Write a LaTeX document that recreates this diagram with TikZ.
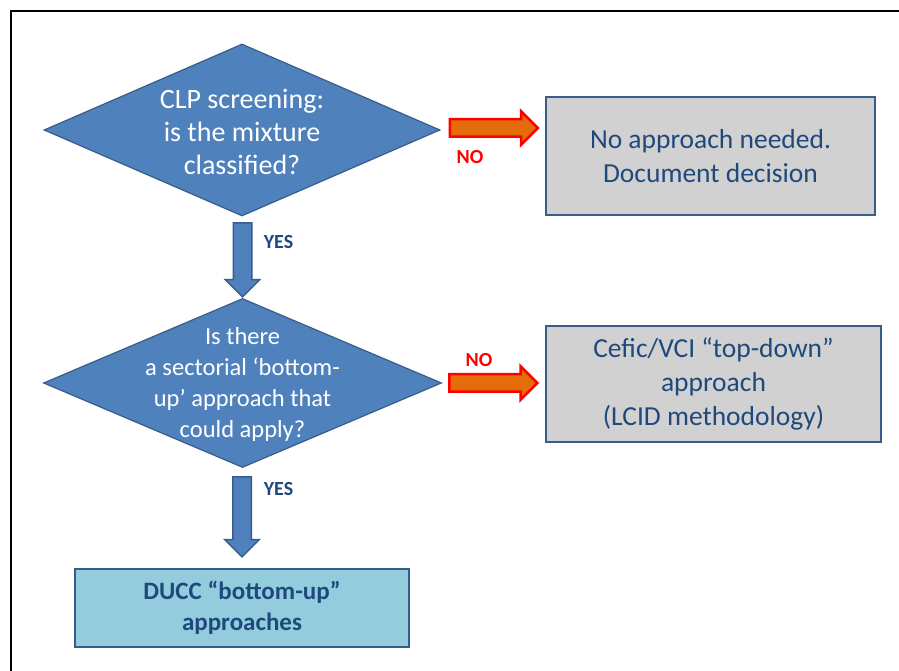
\documentclass[tikz,border=0pt]{standalone}
\usepackage{fontspec}
\setmainfont{Carlito}
\usetikzlibrary{shapes.geometric,shapes.arrows,calc}

\definecolor{qblue}{HTML}{4F81BD}
\definecolor{edgeblue}{HTML}{385D8A}
\definecolor{textblue}{HTML}{1F497D}
\definecolor{duccblue}{HTML}{93CDDD}
\definecolor{noorange}{HTML}{E46C0A}

\tikzset{
    question/.style={diamond, draw=edgeblue, fill=qblue, line width=1.2pt, inner sep=0pt, aspect=2.3},
    qtext/.style={text=white, align=center},
    result/.style={rectangle, draw=edgeblue, fill=black!18, line width=2pt, inner sep=0pt,
        text=textblue, align=center, font=\fontsize{27.5}{34}\selectfont},
    duccbox/.style={rectangle, draw=edgeblue, fill=duccblue, line width=2.2pt, inner sep=0pt,
        text=textblue, align=center, font=\bfseries\fontsize{25}{31}\selectfont},
    yesarrow/.style={single arrow, draw=edgeblue, fill=qblue, line width=1.5pt, inner sep=0pt,
        inner ysep=8.5pt, minimum width=34pt, single arrow head extend=8pt, rotate=-90, anchor=tip},
    noarrow/.style={single arrow, draw=red, fill=noorange, line width=2.5pt, inner sep=0pt,
        inner ysep=7.5pt, minimum width=32pt, single arrow head extend=8pt, anchor=tail},
    yeslabel/.style={text=textblue, font=\bfseries\fontsize{20}{22}\selectfont},
    nolabel/.style={text=red, font=\bfseries\fontsize{20}{22}\selectfont}
}

\begin{document}
\begin{tikzpicture}[x=1pt,y=1pt]
    \useasboundingbox (0,0) rectangle (899,671);
    \clip (0,0) rectangle (899,671);
    \fill[white] (0,0) rectangle (899,671);
    \draw[line width=2.5pt] (11,-10) -- (11,660.5);
    \draw[line width=1.5pt] (10,660) -- (910,660);

    \node[question, minimum width=396pt, minimum height=172pt] (q1) at (242,541) {};
    \node[qtext, font=\fontsize{28}{33}\selectfont] (q1text) at (242,539) {CLP screening:\\is the mixture\\classified?};
    \node[question, minimum width=398pt, minimum height=169pt] (q2) at (242.5,288) {};
    \node[qtext, font=\fontsize{24.5}{31}\selectfont] (q2text) at (242.5,287) {Is there\\a sectorial ‘bottom-\\up’ approach that\\could apply?};

    \node[result, minimum width=329pt, minimum height=118pt] (noneed) at (710.5,515) {No approach needed.\\Document decision};
    \node[result, minimum width=335pt, minimum height=116pt] (topdown) at (713.5,287) {Cefic/VCI “top-down”\\approach\\(LCID methodology)};
    \node[duccbox, minimum width=334pt, minimum height=78pt] (ducc) at (242,63) {DUCC “bottom-up”\\approaches};

    \node[yesarrow, minimum height=74pt] (yes1arrow) at (q2.north) {};
    \node[yesarrow, minimum height=80pt] (yes2arrow) at ($(ducc.north)+(0,10)$) {};
    \node[noarrow, minimum height=88pt] (no1arrow) at ($(q1.east)+(8,2)$) {};
    \node[noarrow, minimum height=88pt] (no2arrow) at ($(q2.east)+(6,0)$) {};

    \node[yeslabel] (yes1) at (278.5,429) {YES};
    \node[yeslabel] (yes2) at (278.5,182) {YES};
    \node[nolabel] (no1) at (470,514) {NO};
    \node[nolabel] (no2) at (479,311) {NO};
\end{tikzpicture}
\end{document}
